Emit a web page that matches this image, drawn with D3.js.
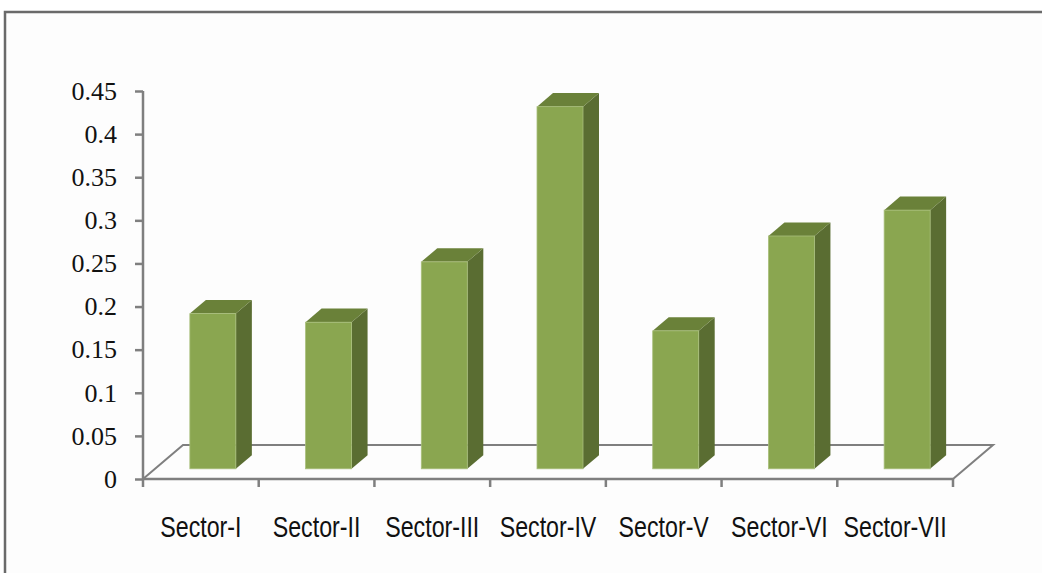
<!DOCTYPE html>
<html>
<head>
<meta charset="utf-8">
<script src="https://cdn.jsdelivr.net/npm/d3@7"></script>
<style>
  html, body { margin: 0; padding: 0; background: #ffffff; }
  svg { display: block; }
</style>
</head>
<body>
<svg width="1042" height="573"></svg>
<script>
const svg = d3.select('svg');
const svgWidth = +svg.attr('width');
const svgHeight = +svg.attr('height');

// data
const sectors = ['Sector-I', 'Sector-II', 'Sector-III', 'Sector-IV', 'Sector-V', 'Sector-VI', 'Sector-VII'];
const values = [0.18, 0.17, 0.24, 0.42, 0.16, 0.27, 0.30];
const yTickValues = [0, 0.05, 0.1, 0.15, 0.2, 0.25, 0.3, 0.35, 0.4, 0.45];
const yTickLabels = ['0', '0.05', '0.1', '0.15', '0.2', '0.25', '0.3', '0.35', '0.4', '0.45'];

// outer frame (runs off the right and bottom edges)
svg.append('rect')
  .attr('x', 5)
  .attr('y', 12)
  .attr('width', svgWidth + 40)
  .attr('height', svgHeight + 40)
  .attr('fill', '#fdfdfd')
  .attr('stroke', '#6a6a6a')
  .attr('stroke-width', 2.5);

const y = d3.scaleLinear()
  .domain([0, 0.45])
  .range([479, 91]);

const x = d3.scaleBand()
  .domain(sectors)
  .range([143, 953])
  .padding(0);

// perspective of the floor
const floorDx = 40;
const floorDy = 34;
const barFront = 0.3;   // fraction of floor depth where bar front sits
const barDepth = 0.4;   // fraction of floor depth the bar occupies
const barWidth = 46;

const axisColor = '#7f7f7f';
const x0 = x.range()[0];
const x1 = x.range()[1];
const yBase = y(0);

// floor (back line and sides), behind the bars
const floor = svg.append('g').attr('class', 'floor')
  .attr('fill', 'none')
  .attr('stroke', axisColor)
  .attr('stroke-width', 2);
floor.append('path')
  .attr('d', `M${x0},${yBase} L${x0 + floorDx},${yBase - floorDy} L${x1 + floorDx},${yBase - floorDy} L${x1},${yBase}`);

// bars
const fdx = floorDx * barFront;
const fdy = floorDy * barFront;
const bdx = floorDx * barDepth;
const bdy = floorDy * barDepth;

const bars = svg.append('g').attr('class', 'bars')
  .selectAll('g.bar')
  .data(sectors.map((s, i) => ({ sector: s, value: values[i] })))
  .enter()
  .append('g')
    .attr('class', 'bar');

const frontX = d => x(d.sector) + (x.bandwidth() - barWidth) / 2 + fdx;
const topY = d => y(d.value) - fdy;
const botY = yBase - fdy;

bars.append('path')
  .attr('fill', '#5a6d32')
  .attr('d', d => {
    const fx = frontX(d) + barWidth;
    const ty = topY(d);
    return `M${fx},${ty} L${fx + bdx},${ty - bdy} L${fx + bdx},${botY - bdy} L${fx},${botY} Z`;
  });

bars.append('path')
  .attr('fill', '#6a8139')
  .attr('d', d => {
    const fx = frontX(d);
    const ty = topY(d);
    return `M${fx},${ty} L${fx + barWidth},${ty} L${fx + barWidth + bdx},${ty - bdy} L${fx + bdx},${ty - bdy} Z`;
  });

bars.append('rect')
  .attr('fill', '#8aa650')
  .attr('stroke', '#a9bf7c')
  .attr('stroke-width', 0.8)
  .attr('x', d => frontX(d))
  .attr('y', d => topY(d))
  .attr('width', barWidth)
  .attr('height', d => botY - topY(d));

// y axis
const yAxis = d3.axisLeft(y)
  .tickValues(yTickValues)
  .tickFormat((d, i) => yTickLabels[i])
  .tickSize(8)
  .tickSizeOuter(0)
  .tickPadding(18);

const yAxisG = svg.append('g')
  .attr('transform', `translate(${x0},0)`)
  .call(yAxis);
yAxisG.select('.domain')
  .attr('stroke', axisColor)
  .attr('stroke-width', 2.5)
  .attr('d', `M0,${y(0.45)}V${yBase + 8}`);
yAxisG.selectAll('.tick line')
  .attr('stroke', axisColor)
  .attr('stroke-width', 2.5);
yAxisG.selectAll('.tick text')
  .attr('fill', '#111')
  .style('font-family', '"Liberation Serif", "DejaVu Serif", serif')
  .style('font-size', '26px');

// front floor edge with category boundary ticks
const xAxisG = svg.append('g').attr('class', 'x-axis');
xAxisG.append('line')
  .attr('x1', x0).attr('x2', x1)
  .attr('y1', yBase).attr('y2', yBase)
  .attr('stroke', axisColor)
  .attr('stroke-width', 2.5);

const boundaries = sectors.map(s => x(s)).concat([x1]);
xAxisG.selectAll('line.xtick')
  .data(boundaries.slice(1))
  .enter()
  .append('line')
    .attr('class', 'xtick')
    .attr('x1', d => d).attr('x2', d => d)
    .attr('y1', yBase).attr('y2', yBase + 8)
    .attr('stroke', axisColor)
    .attr('stroke-width', 2.5);

// narrow sans labels: squeeze a regular sans horizontally
xAxisG.selectAll('text.xlabel')
  .data(sectors)
  .enter()
  .append('text')
    .attr('class', 'xlabel')
    .attr('transform', d => `translate(${x(d) + x.bandwidth() / 2},537) scale(0.8,1)`)
    .attr('text-anchor', 'middle')
    .attr('fill', '#111')
    .style('font-family', '"Liberation Sans", Arial, sans-serif')
    .style('font-size', '29px')
    .text(d => d);
</script>
</body>
</html>
